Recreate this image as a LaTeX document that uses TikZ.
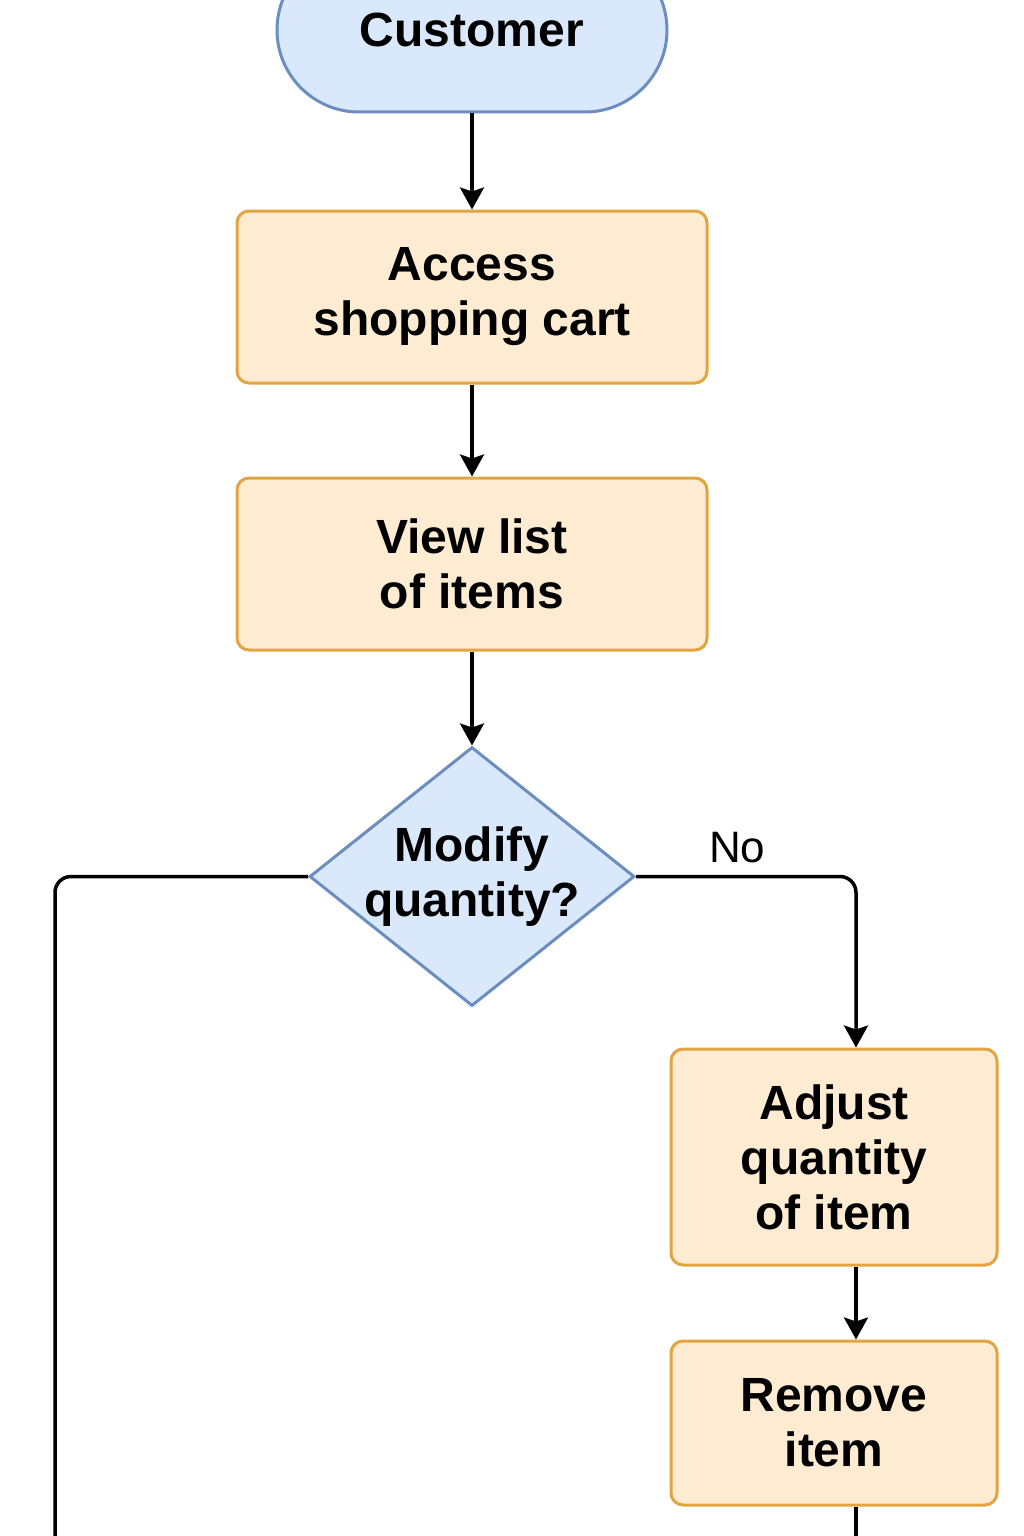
\documentclass[tikz,border=0pt]{standalone}
\usepackage{fontspec}
\setmainfont{Liberation Sans}
\usepackage{tikz}
\usetikzlibrary{arrows.meta, positioning, shapes.geometric}

\definecolor{taskfill}{HTML}{FDECD1}
\definecolor{taskline}{HTML}{E2A542}
\definecolor{termfill}{HTML}{DAE8FC}
\definecolor{termline}{HTML}{6C8EBF}

\begin{document}
\begin{tikzpicture}[
	x=1pt, y=-1pt,
	font=\fontsize{48}{55}\selectfont\bfseries,
	term/.style={draw=termline, fill=termfill, line width=3pt, rounded corners=82pt, align=center, minimum width=390pt, minimum height=164pt},
	task/.style={draw=taskline, fill=taskfill, line width=3pt, rounded corners=12pt, align=center, minimum width=470pt, minimum height=172pt},
	subtask/.style={task, minimum width=326pt},
	choice/.style={diamond, draw=termline, fill=termfill, line width=3pt, align=center, inner sep=-6pt, aspect=1.255, minimum width=325pt, minimum height=259pt},
	arr/.style={-{Stealth[length=22pt, width=24pt, inset=4pt]}, line width=3.5pt},
	wire/.style={line width=3.5pt, rounded corners=16pt}
]

\useasboundingbox (0,0) rectangle (1024,1536);

\node[term] (customer) at (472,30) {Customer};
\node[task, below=96pt of customer] (cart) {Access\\shopping cart};
\node[task, below=92pt of cart] (items) {View list\\of items};
\node[choice, below=94pt of items] (modify) {Modify\\quantity?};

\node[subtask, minimum height=216pt] (adjust) at (834,1157) {Adjust\\quantity\\of item};
\node[subtask, minimum height=164pt, below=73pt of adjust] (remove) {Remove\\item};

\coordinate (nocol) at (856,877);
\coordinate (leftend) at (55,1536);

\draw[arr] (customer) -- (cart);
\draw[arr] (cart) -- (items);
\draw[arr] (items) -- (modify);
\draw[arr, wire] (modify.east) -| node[pos=0.23, above=8pt, font=\fontsize{44}{50}\selectfont] {No} (adjust.north -| nocol);
\draw[arr] (adjust.south -| nocol) -- (remove.north -| nocol);
\draw[wire] (remove.south -| nocol) -- (nocol |- leftend);
\draw[wire] (modify.west) -| (leftend);

\end{tikzpicture}
\end{document}
